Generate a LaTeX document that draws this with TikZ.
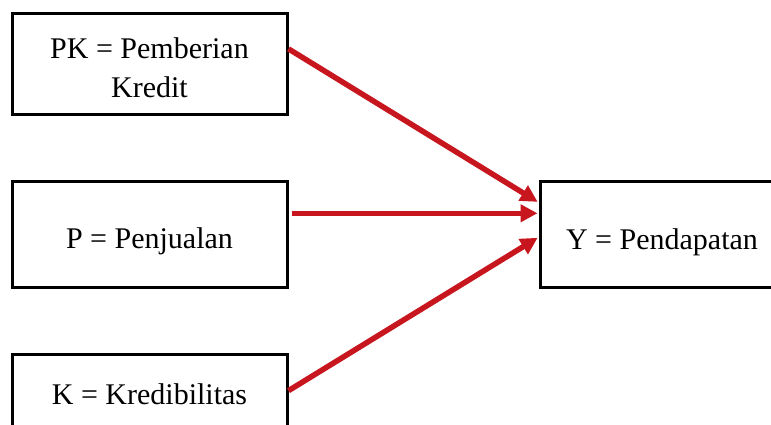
\documentclass[tikz,border=0pt]{standalone}
\usepackage{fontspec}
\setmainfont{Liberation Serif}
\usetikzlibrary{arrows.meta,calc}
\definecolor{arrowred}{RGB}{200,22,30}
\begin{document}
\begin{tikzpicture}[x=1pt,y=-1pt,
  box/.style={draw=black,line width=3pt,minimum width=275pt,minimum height=101pt,
    inner sep=0pt,align=center,font=\fontsize{30}{39}\selectfont},
  conn/.style={draw=arrowred,line width=5.5pt,-{Triangle[length=17pt,width=17pt]},shorten >=1pt}]
\clip (0,0) rectangle (771,425);
\fill[white] (0,0) rectangle (771,425);
\node[box] (pk) at (149.5,64.5) {};
\node[font=\fontsize{30}{39}\selectfont,align=center] (pkt) at (149.5,68) {PK = Pemberian\\Kredit};
\node[box,minimum height=106pt] (p) at (149.5,234) {};
\node[font=\fontsize{30}{39}\selectfont,anchor=base] (pt) at (149.5,248) {P = Penjualan};
\node[box,minimum height=106pt] (k) at (149.5,407) {};
\node[font=\fontsize{30}{39}\selectfont,anchor=base] (kt) at (149.5,404) {K = Kredibilitas};
\node[box,minimum width=244pt,minimum height=106pt] (y) at (662,234) {};
\node[font=\fontsize{30}{39}\selectfont,anchor=base] (yt) at (662,249) {Y = Pendapatan};
\coordinate (pks) at ($(pk.north east)!0.35!(pk.south east)$);
\coordinate (ys1) at ($(y.north west)!0.21!(y.south west)$);
\coordinate (ps) at ($(p.north east)!0.31!(p.south east)$);
\coordinate (ys2) at ($(y.north west)!0.31!(y.south west)$);
\coordinate (ks) at ($(k.north east)!0.35!(k.south east)$);
\coordinate (ys3) at ($(y.north west)!0.53!(y.south west)$);
\draw[conn] (pks) -- (ys1);
\draw[conn] ([xshift=3pt]ps) -- (ys2);
\draw[conn] (ks) -- (ys3);
\end{tikzpicture}
\end{document}
